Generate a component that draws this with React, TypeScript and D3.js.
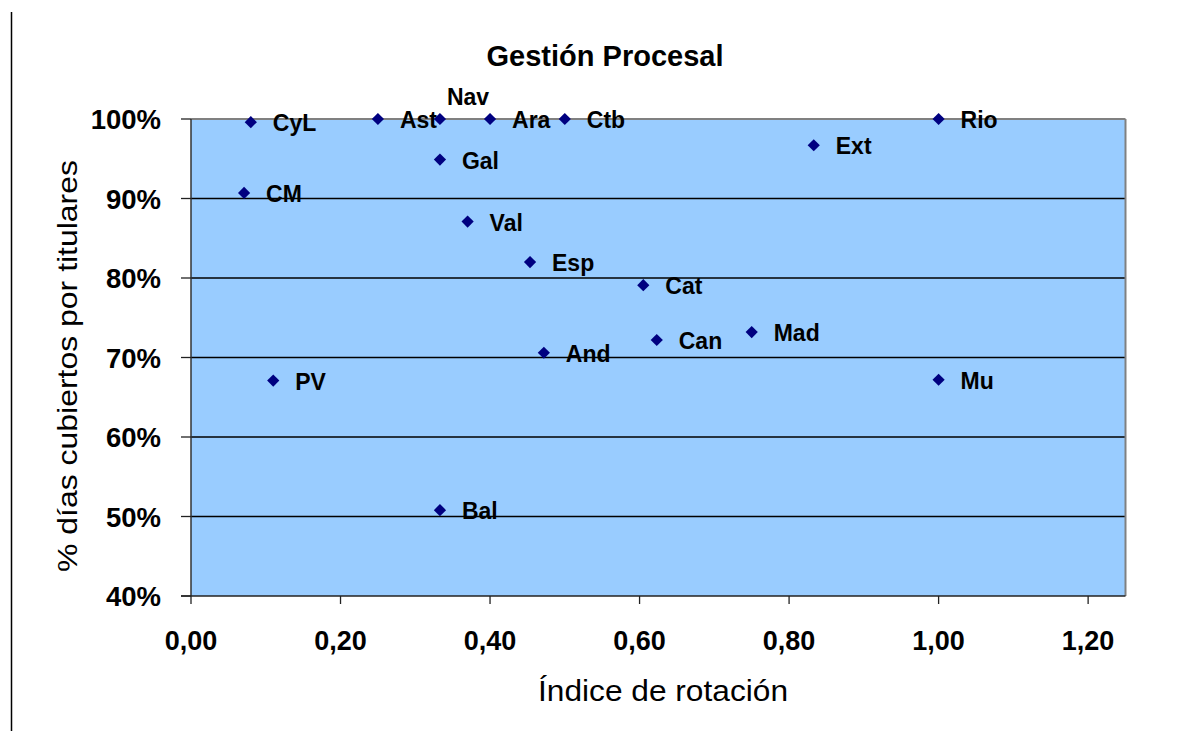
import React from "react";
import * as d3 from "d3";

const regions = ["CyL", "Ast", "Nav", "Ara", "Ctb", "Rio", "Gal", "Ext", "CM", "Val", "Esp", "Cat", "Mad", "Can", "And", "PV", "Mu", "Bal"];
const rotation = [0.08, 0.25, 0.333, 0.40, 0.50, 1.00, 0.333, 0.833, 0.071, 0.37, 0.4535, 0.605, 0.75, 0.623, 0.472, 0.11, 1.00, 0.333];
const coverage = [0.996, 1.0, 1.0, 1.0, 1.0, 1.0, 0.949, 0.967, 0.907, 0.871, 0.82, 0.791, 0.732, 0.722, 0.706, 0.671, 0.672, 0.508];
const xTicks = [0, 0.2, 0.4, 0.6, 0.8, 1.0, 1.2];
const yTicks = [0.4, 0.5, 0.6, 0.7, 0.8, 0.9, 1.0];
const labelsAbove = ["Nav"];

const title = "Gestión Procesal";
const xTitle = "Índice de rotación";
const yTitle = "% días cubiertos por titulares";

const FONT = "'Liberation Sans', Arial, sans-serif";

export default function App() {
  const left = 191, right = 1125.5, top = 119, bottom = 596;
  const x = d3.scaleLinear().domain([0, 1.25]).range([left, right]);
  const y = d3.scaleLinear().domain([0.4, 1.0]).range([bottom, top]);
  const diamond = d3.symbol().type(d3.symbolDiamond2).size(95)();
  const fmtX = (v: number) => d3.format(".2f")(v).replace(".", ",");
  const fmtY = d3.format(".0%");

  return (
    <svg width={1178} height={735} style={{ position: "absolute", left: 0, top: 0, background: "#fff" }} fontFamily={FONT}>
      <line x1={11.5} x2={11.5} y1={12} y2={731} stroke="#000" strokeWidth={1.5} />
      <rect x={left} y={top} width={right - left} height={bottom - top} fill="#99CCFF" />
      {yTicks.filter(t => t > 0.4 && t < 1.0).map(t => (
        <line key={"g" + t} x1={left} x2={right} y1={y(t)} y2={y(t)} stroke="#000" strokeWidth={1.3} />
      ))}
      <line x1={left} x2={right} y1={top} y2={top} stroke="#808080" strokeWidth={2} />
      <line x1={right} x2={right} y1={top} y2={bottom} stroke="#808080" strokeWidth={2} />
      <line x1={left} x2={left} y1={top} y2={bottom} stroke="#333" strokeWidth={1.5} />
      <line x1={left - 10} x2={right} y1={bottom} y2={bottom} stroke="#222" strokeWidth={1.5} />
      {yTicks.map(t => (
        <g key={"y" + t}>
          <line x1={left - 10} x2={left} y1={y(t)} y2={y(t)} stroke="#222" strokeWidth={1.3} />
          <text x={161} y={y(t) + 10} textAnchor="end" fontSize={27.5} fontWeight="bold" fill="#000">{fmtY(t)}</text>
        </g>
      ))}
      {xTicks.map(t => (
        <g key={"x" + t}>
          <line x1={x(t)} x2={x(t)} y1={bottom} y2={bottom + 8} stroke="#222" strokeWidth={1.3} />
          <text x={x(t)} y={650} textAnchor="middle" fontSize={27} fontWeight="bold" fill="#000">{fmtX(t)}</text>
        </g>
      ))}
      {regions.map((r, i) => {
        const px = x(rotation[i]);
        const py = y(coverage[i]);
        const above = labelsAbove.includes(r);
        return (
          <g key={r}>
            <path d={diamond} transform={`translate(${px},${py})`} fill="#000080" />
            <text x={above ? px + 7 : px + 22} y={above ? py - 14 : py + 9} fontSize={23} fontWeight="bold" fill="#000">{r}</text>
          </g>
        );
      })}
      <text x={605} y={66} textAnchor="middle" fontSize={29} fontWeight="bold" fill="#000">{title}</text>
      <text x={663} y={701} textAnchor="middle" fontSize={29} fill="#000" textLength={250} lengthAdjust="spacingAndGlyphs">{xTitle}</text>
      <text transform={`translate(77,366) rotate(-90)`} textAnchor="middle" fontSize={28} fill="#000" textLength={412} lengthAdjust="spacingAndGlyphs">{yTitle}</text>
    </svg>
  );
}
